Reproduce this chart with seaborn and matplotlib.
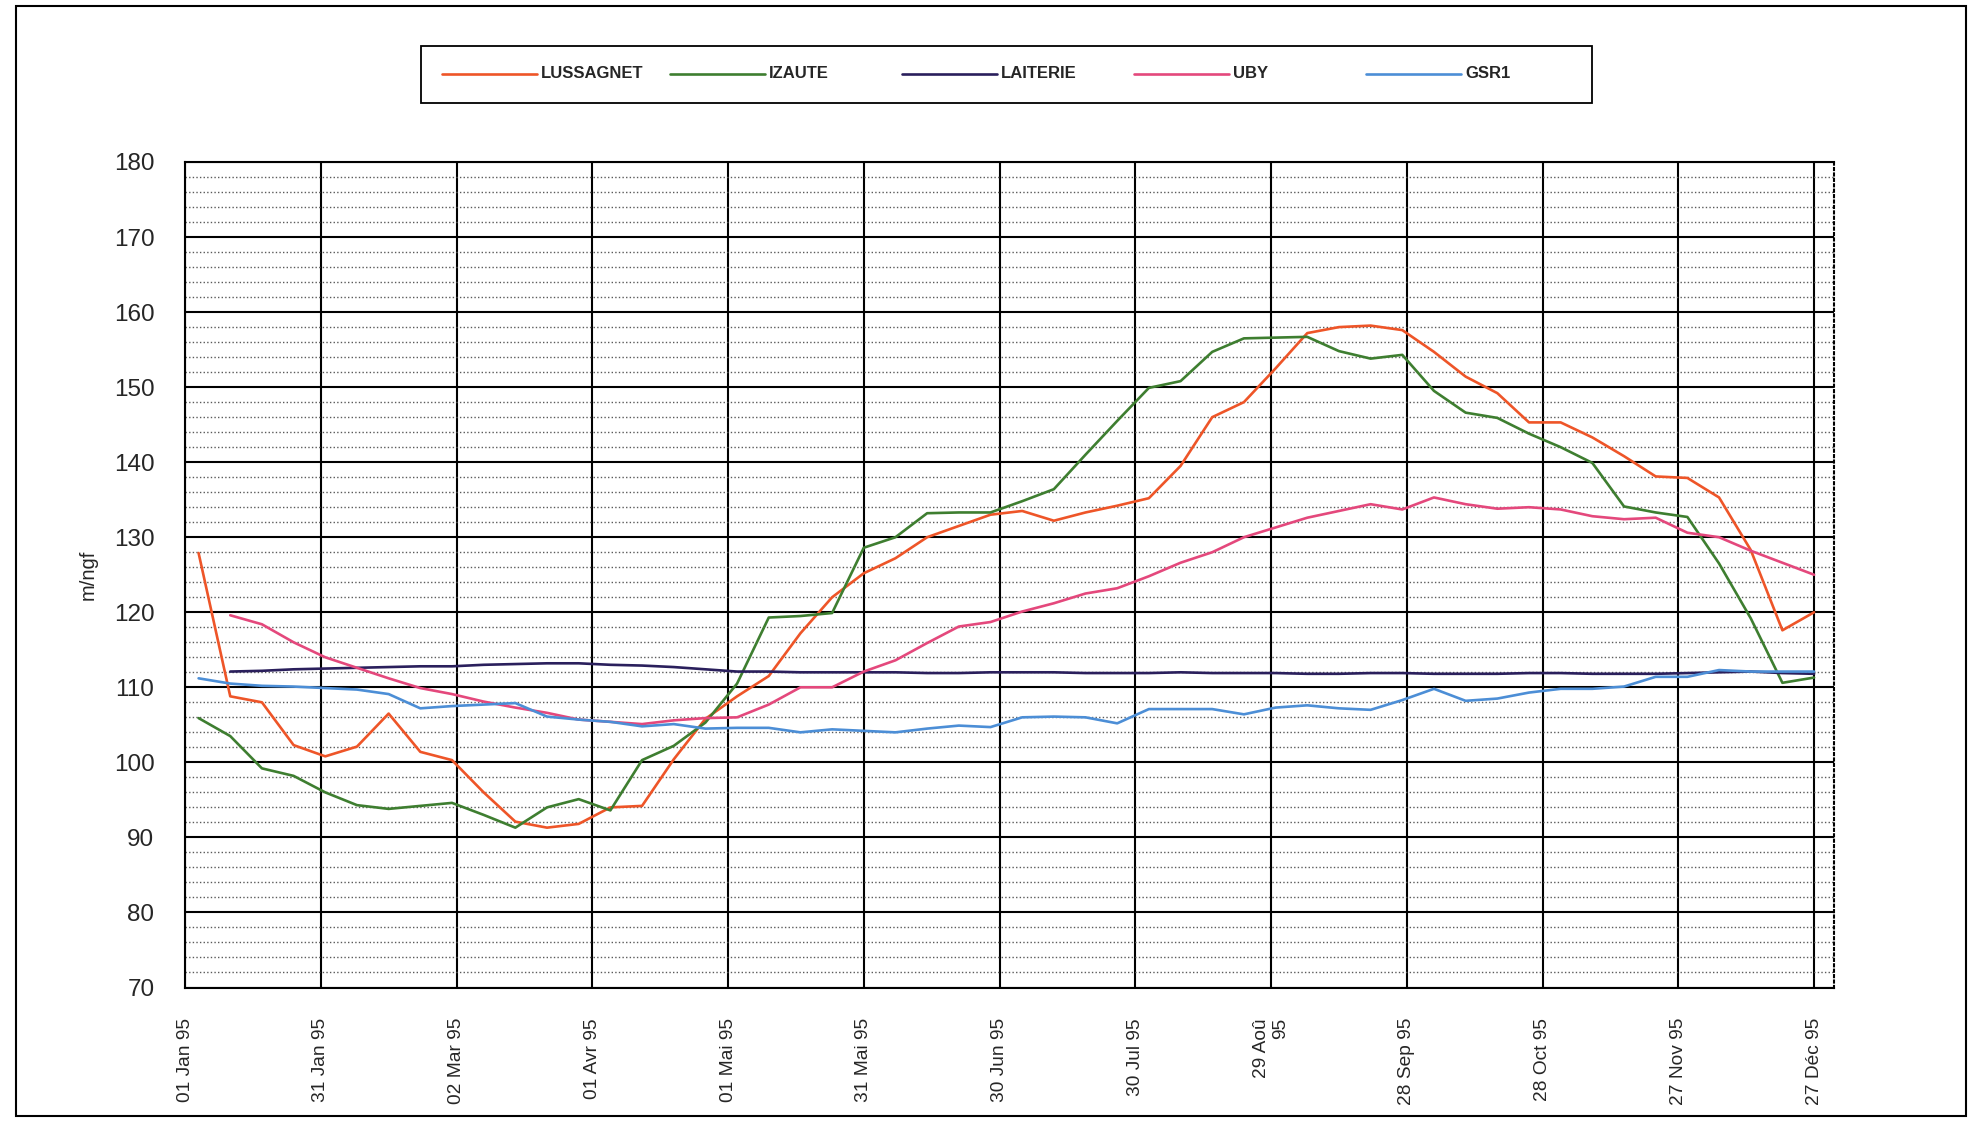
import numpy as np
import pandas as pd
import matplotlib
matplotlib.use("Agg")
import matplotlib.pyplot as plt
import seaborn as sns
from matplotlib.ticker import MultipleLocator
from matplotlib.patches import Rectangle
from matplotlib.lines import Line2D

# Weekly piezometric readings, 1995 (day 0 = 1 January)
jours = list(range(3, 361, 7))

lussagnet = [127.9, 108.8, 108.0, 102.3, 100.8, 102.1, 106.5, 101.4, 100.3, 96.0,
             92.1, 91.3, 91.8, 94.0, 94.2, 100.4, 105.8, 108.8, 111.5, 117.2,
             122.0, 125.2, 127.2, 130.0, 131.5, 133.0, 133.5, 132.2, 133.3, 134.2,
             135.2, 139.5, 146.0, 148.0, 152.5, 157.2, 158.0, 158.2, 157.6, 154.7,
             151.4, 149.2, 145.3, 145.3, 143.3, 140.8, 138.1, 137.9, 135.3, 128.3,
             117.6, 120.0]

izaute = [105.9, 103.5, 99.2, 98.2, 96.0, 94.3, 93.8, 94.2, 94.6, 93.0,
          91.3, 94.0, 95.1, 93.6, 100.3, 102.2, 105.3, 110.5, 119.3, 119.5,
          119.9, 128.6, 130.0, 133.2, 133.3, 133.3, 134.8, 136.4, 141.0, 145.5,
          149.9, 150.8, 154.7, 156.5, 156.6, 156.7, 154.8, 153.8, 154.3, 149.5,
          146.6, 145.9, 143.8, 142.0, 139.9, 134.1, 133.3, 132.7, 126.5, 119.2,
          110.6, 111.3]

laiterie = [np.nan, 112.1, 112.2, 112.4, 112.5, 112.6, 112.7, 112.8, 112.8, 113.0,
            113.1, 113.2, 113.2, 113.0, 112.9, 112.7, 112.4, 112.1, 112.1, 112.0,
            112.0, 112.0, 112.0, 111.9, 111.9, 112.0, 112.0, 112.0, 111.9, 111.9,
            111.9, 112.0, 111.9, 111.9, 111.9, 111.8, 111.8, 111.9, 111.9, 111.8,
            111.8, 111.8, 111.9, 111.9, 111.8, 111.8, 111.8, 111.9, 112.0, 112.1,
            111.9, 111.8]

uby = [np.nan, 119.6, 118.4, 116.0, 114.0, 112.6, 111.2, 109.9, 109.1, 108.1,
       107.3, 106.6, 105.7, 105.4, 105.1, 105.6, 105.9, 106.0, 107.7, 110.0,
       110.0, 112.1, 113.6, 115.9, 118.1, 118.7, 120.1, 121.2, 122.5, 123.2,
       124.8, 126.6, 128.0, 130.0, 131.3, 132.6, 133.5, 134.4, 133.7, 135.3,
       134.4, 133.8, 134.0, 133.7, 132.8, 132.4, 132.6, 130.6, 130.0, 128.2,
       126.6, 125.0]

gsr1 = [111.2, 110.5, 110.2, 110.1, 109.9, 109.7, 109.1, 107.2, 107.5, 107.7,
        107.9, 106.1, 105.7, 105.4, 104.8, 105.1, 104.5, 104.6, 104.6, 104.0,
        104.4, 104.2, 104.0, 104.5, 104.9, 104.7, 106.0, 106.1, 106.0, 105.2,
        107.1, 107.1, 107.1, 106.4, 107.3, 107.6, 107.2, 107.0, 108.3, 109.8,
        108.2, 108.5, 109.3, 109.8, 109.8, 110.1, 111.4, 111.4, 112.3, 112.1,
        112.1, 112.1]

stations = ["LUSSAGNET", "IZAUTE", "LAITERIE", "UBY", "GSR1"]
couleurs = ["#EE5528", "#3E7E30", "#2A1F5C", "#E4487C", "#4C8ED6"]

tick_jours = list(range(0, 361, 30))
tick_labels = ["01 Jan 95", "31 Jan 95", "02 Mar 95", "01 Avr 95", "01 Mai 95",
               "31 Mai 95", "30 Jun 95", "30 Jul 95", "29 Aoû\n95", "28 Sep 95",
               "28 Oct 95", "27 Nov 95", "27 Déc 95"]
y_ticks = list(range(70, 181, 10))

# Long-form table for seaborn
wide = pd.DataFrame({"jour": jours, "LUSSAGNET": lussagnet, "IZAUTE": izaute,
                     "LAITERIE": laiterie, "UBY": uby, "GSR1": gsr1})
data = wide.melt(id_vars="jour", var_name="station", value_name="niveau").dropna()

sns.set_style("white")
plt.rcParams["font.family"] = ["Liberation Sans", "DejaVu Sans"]

W, H = 1970, 1138
fig = plt.figure(figsize=(W / 100, H / 100), dpi=100)
fig.patch.set_facecolor("white")

left, right, top, bottom = 185, 1834, 162, 987.5
ax = fig.add_axes([left / W, 1 - bottom / H, (right - left) / W, (bottom - top) / H])

palette = dict(zip(stations, couleurs))
sns.lineplot(data=data, x="jour", y="niveau", hue="station", hue_order=stations,
             palette=palette, estimator=None, legend=False, linewidth=1.9, ax=ax)

ax.set_xlim(0, 364.4)
ax.set_ylim(70, 180)
ax.set_xticks(tick_jours)
ax.set_xticklabels(tick_labels, rotation=90, fontsize=13.8)
for t in ax.get_xticklabels():
    t.set_multialignment("right")
ax.set_yticks(y_ticks)
ax.set_yticklabels([str(v) for v in y_ticks], fontsize=17.5)
ax.yaxis.set_minor_locator(MultipleLocator(2))

ax.tick_params(axis="both", which="major", direction="out", length=9, width=1.4, color="black")
ax.tick_params(axis="x", which="major", pad=13)
ax.tick_params(axis="y", which="major", pad=13)
ax.tick_params(axis="both", which="minor", length=0)

ax.set_axisbelow(True)
ax.grid(True, which="major", axis="both", color="black", linewidth=1.5)
ax.grid(True, which="minor", axis="y", color="#5a5a5a", linewidth=1.0,
        linestyle=(0, (1, 1.6)))

for name, sp in ax.spines.items():
    sp.set_color("black")
    sp.set_linewidth(1.5)
ax.spines["right"].set_linestyle((0, (1, 1.6)))

ax.set_xlabel("")
ax.set_ylabel("m/ngf", fontsize=14.5)
ax.yaxis.set_label_coords(-0.053, 0.5)

# Legend box across the top
fig.add_artist(Rectangle((421 / W, 1 - 103 / H), (1592 - 421) / W, 57 / H,
                         transform=fig.transFigure, facecolor="white",
                         edgecolor="black", linewidth=1.3))
starts = [442, 670, 902, 1134, 1366]
ly = 1 - 74 / H
for x0, name, col in zip(starts, stations, couleurs):
    fig.add_artist(Line2D([x0 / W, (x0 + 95) / W], [ly, ly], transform=fig.transFigure,
                          color=col, linewidth=1.9))
    fig.text((x0 + 99) / W, ly, name, fontsize=12, fontweight="bold",
             ha="left", va="center")

# Outer frame of the chart area
fig.add_artist(Rectangle((16 / W, 1 - 1116 / H), (1966 - 16) / W, (1116 - 6) / H,
                         transform=fig.transFigure, fill=False,
                         edgecolor="black", linewidth=1.5))

fig.savefig("out.png", dpi=100, facecolor="white")
